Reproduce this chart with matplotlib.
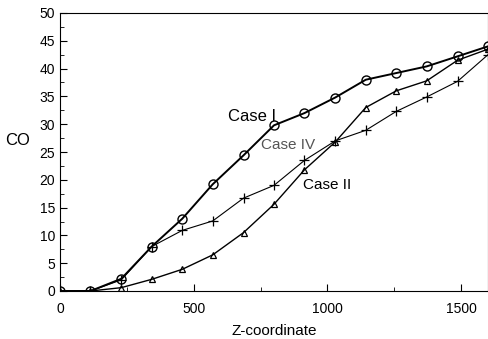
import numpy as np
import matplotlib.pyplot as plt
from matplotlib.ticker import MultipleLocator

plt.rcParams['font.family'] = ['Liberation Sans', 'DejaVu Sans']

# Z positions of the samples
z = [0, 114, 229, 343, 457, 571, 686, 800, 914, 1029, 1143, 1257, 1371, 1486, 1600]

# CO values for each case
case1 = [0, 0, 2.2, 8, 13, 19.2, 24.4, 29.8, 32, 34.8, 38, 39.2, 40.4, 42.2, 44]
case2 = [0, 0, 0.6, 2.1, 3.9, 6.5, 10.5, 15.6, 21.8, 26.8, 33, 36, 37.8, 41.5, 43.5]
case4 = [0, 0, 2, 8, 10.9, 12.6, 16.7, 19, 23.5, 27, 28.9, 32.3, 34.9, 37.7, 42.5]

fig = plt.figure(figsize=(4.89, 3.39), dpi=100)
ax = fig.add_axes([60/489, 48/339, 428/489, 278/339])

ax.plot(z, case4, color='black', lw=0.8, marker='+', ms=7, mew=0.9)
ax.plot(z, case2, color='black', lw=1.0, marker='^', ms=5, mfc='none', mew=0.9)
ax.plot(z, case1, color='black', lw=1.4, marker='o', ms=6.5, mfc='none', mew=1.0)

ax.text(627, 31.3, 'Case I', fontsize=12, va='center', ha='left')
ax.text(750, 26.2, 'Case IV', fontsize=11, va='center', ha='left', color='#555555')
ax.text(907, 19.0, 'Case II', fontsize=11, va='center', ha='left')

ax.set_xlim(0, 1600)
ax.set_ylim(0, 50)
ax.xaxis.set_major_locator(MultipleLocator(500))
ax.xaxis.set_minor_locator(MultipleLocator(250))
ax.yaxis.set_major_locator(MultipleLocator(5))
ax.yaxis.set_minor_locator(MultipleLocator(2.5))
ax.tick_params(which='both', direction='in', labelsize=10)
ax.tick_params(which='major', length=5)
ax.tick_params(which='minor', length=3)
ax.tick_params(axis='x', which='major', pad=8)

ax.set_xlabel('Z-coordinate', fontsize=11, labelpad=6)
ax.set_ylabel('CO', fontsize=12, rotation=0, va='center', ha='center')
ax.yaxis.set_label_coords(-0.099, 0.543)

fig.savefig('out.png', dpi=100)
